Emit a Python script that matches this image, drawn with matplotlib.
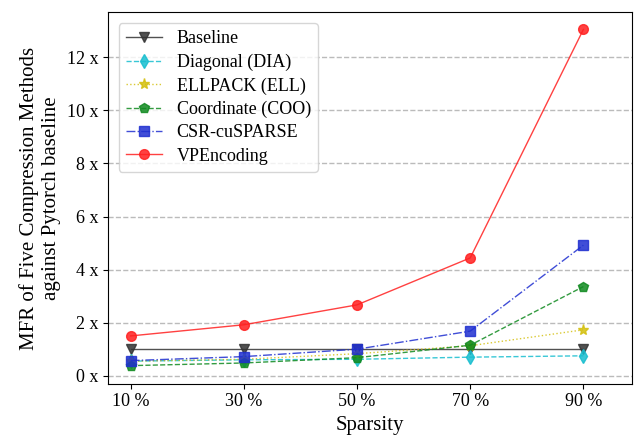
import numpy as np
import matplotlib
matplotlib.use("Agg")
import matplotlib.pyplot as plt

plt.rcParams['font.family'] = ['Liberation Serif', 'DejaVu Serif']

# podatki
sparsity = ["10 %", "30 %", "50 %", "70 %", "90 %"]
baseline = [1.0, 1.0, 1.0, 1.0, 1.0]
dia = [0.55, 0.6, 0.62, 0.7, 0.75]
ell = [0.55, 0.62, 0.83, 1.13, 1.73]
coo = [0.38, 0.48, 0.68, 1.15, 3.36]
csr = [0.57, 0.72, 1.0, 1.68, 4.92]
vpe = [1.5, 1.92, 2.67, 4.44, 13.05]

x = np.arange(len(sparsity))

fig = plt.figure(figsize=(6.43, 4.36), dpi=100)
ax = fig.gca()
ax.set_axisbelow(True)
ax.grid(axis="y", linestyle="--", color="#bbbbbb", linewidth=1)

lw = 1.0
ax.plot(x, baseline, "-", color="#333333", lw=lw, marker="v", markersize=7, alpha=0.85, label="Baseline")
ax.plot(x, dia, "--", color="#17becf", lw=lw, marker="d", markersize=7, alpha=0.85, label="Diagonal (DIA)")
ax.plot(x, ell, ":", color="#d4c010", lw=lw, marker="*", markersize=8, alpha=0.85, label="ELLPACK (ELL)")
ax.plot(x, coo, "--", color="#108a20", lw=lw, marker="p", markersize=7, alpha=0.85, label="Coordinate (COO)")
ax.plot(x, csr, "-.", color="#1f2fd0", lw=lw, marker="s", markersize=7, alpha=0.85, label="CSR-cuSPARSE")
ax.plot(x, vpe, "-", color="#ff2020", lw=lw, marker="o", markersize=7, alpha=0.85, label="VPEncoding")

ax.set_xticks(x)
ax.set_xticklabels(sparsity, fontsize=13)
yt = np.arange(0, 13, 2)
ax.set_yticks(yt)
ax.set_yticklabels(["%d x" % v for v in yt], fontsize=13)
ax.set_xlim(-0.2, 4.43)
ax.set_ylim(-0.3, 13.7)
ax.set_xlabel("Sparsity", fontsize=15)
ax.set_ylabel("MFR of Five Compression Methods\nagainst Pytorch baseline", fontsize=15)
ax.legend(loc="upper left", fontsize=13, labelspacing=0.35, borderaxespad=0.6)

fig.subplots_adjust(left=0.168, right=0.983, top=0.972, bottom=0.12)
fig.savefig("out.png")
